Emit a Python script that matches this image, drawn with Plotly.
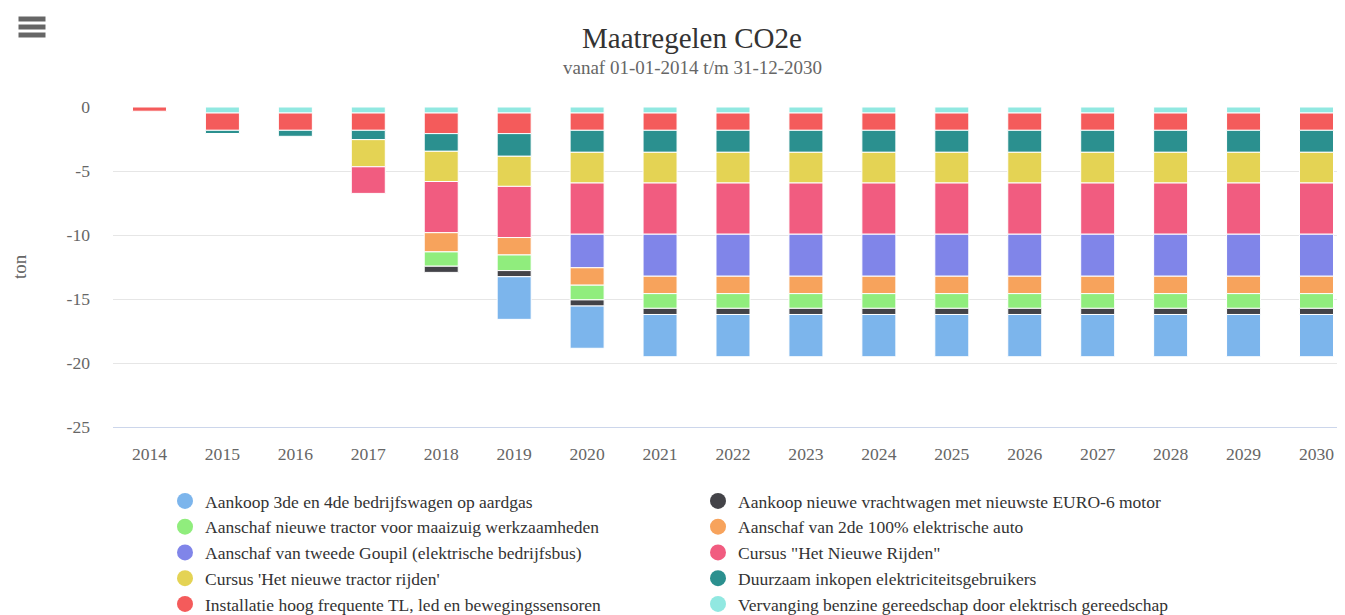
import plotly.graph_objects as go

years = [str(y) for y in range(2014, 2031)]

# values in ton CO2e (negative = reduction), one list per measure
aardgas_bedrijfswagen = [0, 0, 0, 0, 0, -3.33, -3.3, -3.3, -3.3, -3.3, -3.3, -3.3, -3.3, -3.3, -3.3, -3.3, -3.3]
vrachtwagen_euro6 = [0, 0, 0, 0, -0.48, -0.48, -0.48, -0.48, -0.48, -0.48, -0.48, -0.48, -0.48, -0.48, -0.48, -0.48, -0.48]
tractor_maaizuig = [0, 0, 0, 0, -1.12, -1.22, -1.15, -1.15, -1.15, -1.15, -1.15, -1.15, -1.15, -1.15, -1.15, -1.15, -1.15]
elektrische_auto = [0, 0, 0, 0, -1.5, -1.36, -1.36, -1.36, -1.36, -1.36, -1.36, -1.36, -1.36, -1.36, -1.36, -1.36, -1.36]
goupil = [0, 0, 0, 0, 0, 0, -2.62, -3.28, -3.28, -3.28, -3.28, -3.28, -3.28, -3.28, -3.28, -3.28, -3.28]
nieuwe_rijden = [0, 0, 0, -2.08, -4.0, -4.0, -4.0, -4.0, -4.0, -4.0, -4.0, -4.0, -4.0, -4.0, -4.0, -4.0, -4.0]
tractor_rijden = [0, 0, 0, -2.12, -2.36, -2.35, -2.4, -2.4, -2.4, -2.4, -2.4, -2.4, -2.4, -2.4, -2.4, -2.4, -2.4]
duurzaam_inkopen = [0, -0.25, -0.47, -0.73, -1.38, -1.77, -1.72, -1.72, -1.72, -1.72, -1.72, -1.72, -1.72, -1.72, -1.72, -1.72, -1.72]
verlichting = [-0.33, -1.35, -1.35, -1.35, -1.61, -1.61, -1.35, -1.35, -1.35, -1.35, -1.35, -1.35, -1.35, -1.35, -1.35, -1.35, -1.35]
elektrisch_gereedschap = [0, -0.47, -0.47, -0.47, -0.47, -0.47, -0.47, -0.47, -0.47, -0.47, -0.47, -0.47, -0.47, -0.47, -0.47, -0.47, -0.47]

series_names = [
    "Aankoop 3de en 4de bedrijfswagen op aardgas",
    "Aankoop nieuwe vrachtwagen met nieuwste EURO-6 motor",
    "Aanschaf nieuwe tractor voor maaizuig werkzaamheden",
    "Aanschaf van 2de 100% elektrische auto",
    "Aanschaf van tweede Goupil (elektrische bedrijfsbus)",
    "Cursus \"Het Nieuwe Rijden\"",
    "Cursus 'Het nieuwe tractor rijden'",
    "Duurzaam inkopen elektriciteitsgebruikers",
    "Installatie hoog frequente TL, led en bewegingssensoren",
    "Vervanging benzine gereedschap door elektrisch gereedschap",
]
series_values = [
    aardgas_bedrijfswagen, vrachtwagen_euro6, tractor_maaizuig, elektrische_auto, goupil,
    nieuwe_rijden, tractor_rijden, duurzaam_inkopen, verlichting, elektrisch_gereedschap,
]
colors = ["#7cb5ec", "#434348", "#90ed7d", "#f7a35c", "#8085e9",
          "#f15c80", "#e4d354", "#2b908f", "#f45b5b", "#91e8e1"]

FONT = "Liberation Serif"

# The page body has an 8px margin: figure origin sits at window (8, 8).
OFF = 8
W, H = 1345 - OFF, 615 - OFF
# plot area in window pixels: x 113..1345, y 107..427
L, R, T = 113 - OFF, 0, 107 - OFF
PW, PH = W - L - R, 320
B = H - T - PH

def px_x(wx):
    return (wx - OFF - L) / PW

def px_y(wy):
    return (T + PH - (wy - OFF)) / PH

fig = go.Figure()

# bars: add in reverse so the first series is farthest from zero
n = len(series_names)
for i in reversed(range(n)):
    vals = [v if v != 0 else None for v in series_values[i]]
    fig.add_trace(go.Bar(
        x=years, y=vals, name=series_names[i],
        marker=dict(color=colors[i], line=dict(color="#ffffff", width=1)),
        legendgroup=series_names[i], showlegend=False,
        hovertemplate="%{x}<br>" + series_names[i] + ": %{y}<extra></extra>",
    ))

# legend entries with circle symbols
for i in range(n):
    fig.add_trace(go.Scatter(
        x=[None], y=[None], mode="markers", name=series_names[i],
        marker=dict(color=colors[i], size=16, symbol="circle"),
        legendgroup=series_names[i], showlegend=True, legendrank=i + 1,
    ))

TICKFONT = dict(family=FONT, size=17.6, color="#666666")

fig.update_layout(
    width=W, height=H, autosize=False,
    margin=dict(l=L, r=R, t=T, b=B, pad=0, autoexpand=False),
    paper_bgcolor="#ffffff", plot_bgcolor="#ffffff",
    barmode="relative", bargap=0.534,
    font=dict(family=FONT, size=16, color="#666666"),
    title=dict(text="Maatregelen CO2e", x=(692 - OFF) / W, xanchor="center", xref="container",
               y=1 - (38 - OFF) / H, yanchor="middle", yref="container",
               font=dict(family=FONT, size=29, color="#333333")),
    showlegend=True,
    legend=dict(orientation="h", x=px_x(165), xanchor="left", y=px_y(483), yanchor="top",
                entrywidth=488, entrywidthmode="pixels", traceorder="normal",
                font=dict(family=FONT, size=17.5, color="#333333"),
                itemclick="toggle", bgcolor="rgba(0,0,0,0)"),
    xaxis=dict(type="category", range=[-0.5, -0.5 + PW / 72.94],
               showgrid=False, showline=True, linecolor="#ccd6eb", linewidth=1,
               ticks="", tickfont=TICKFONT,
               ticklabelstandoff=11, zeroline=False, fixedrange=True),
    yaxis=dict(range=[-25, 0], tickvals=[0, -5, -10, -15, -20, -25],
               ticktext=["0", "-5", "-10", "-15", "-20", "-25"],
               showgrid=True, gridcolor="#e6e6e6", gridwidth=1,
               zeroline=False, showline=False, ticks="",
               tickfont=TICKFONT,
               ticklabelstandoff=22, fixedrange=True),
    annotations=[
        dict(text="vanaf 01-01-2014 t/m 31-12-2030", xref="paper", yref="paper",
             x=px_x(692), y=px_y(67), xanchor="center", yanchor="middle", showarrow=False,
             font=dict(family=FONT, size=19, color="#666666")),
        dict(text="ton", xref="paper", yref="paper", x=px_x(19), y=px_y(267),
             xanchor="center", yanchor="middle", textangle=-90, showarrow=False,
             font=dict(family=FONT, size=19, color="#666666")),
    ],
    shapes=[
        dict(type="rect", xref="paper", yref="paper", x0=px_x(18.5), x1=px_x(45.5),
             y0=px_y(y0), y1=px_y(y0 + 5), fillcolor="#666666", line=dict(width=0))
        for y0 in (16.5, 24.5, 32.5)
    ],
)

fig.write_html("out.html")
